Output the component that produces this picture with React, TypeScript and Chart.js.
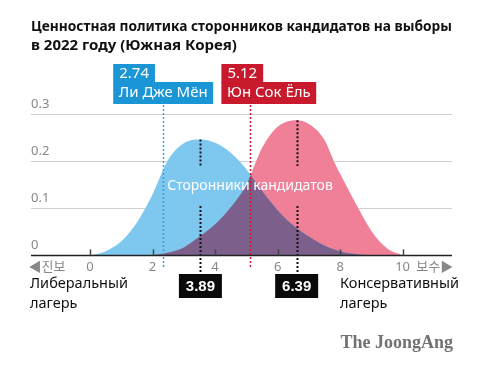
import React, { useEffect, useRef } from 'react';
import { Chart, registerables } from 'chart.js';

Chart.register(...registerables);

// ---------- data ----------
const TITLE_LINES = ['Ценностная политика сторонников кандидатов на выборы', 'в 2022 году (Южная Корея)'];

// Lee Jae-myung supporters (blue)
const leeX = [0, 0.5, 1, 1.5, 2, 2.5, 3, 3.53, 4, 4.5, 5, 5.5, 6, 6.5, 7, 7.5, 8, 8.5, 9];
const leeValues = [0, 0.009, 0.03, 0.07, 0.13, 0.203, 0.238, 0.246, 0.239, 0.218, 0.183, 0.137, 0.096, 0.064, 0.04, 0.021, 0.009, 0.003, 0];

// Yoon Suk-yeol supporters (pink)
const yoonX = [1.9, 2.5, 3, 3.5, 4, 4.5, 5, 5.5, 6, 6.61, 7, 7.5, 7.8, 8.2, 8.6, 9, 9.5, 10];
const yoonValues = [0, 0.006, 0.017, 0.04, 0.066, 0.102, 0.15, 0.228, 0.273, 0.287, 0.279, 0.245, 0.2, 0.148, 0.098, 0.052, 0.015, 0];

const candidateNames = ['Ли Дже Мён', 'Юн Сок Ёль'];
const candidateScores = ['2.74', '5.12'];
const candidatePos = [2.34, 5.13];

const supporterMeans = ['3.89', '6.39'];
const supporterPos = [3.53, 6.61];

const centerLabel = 'Сторонники кандидатов';
const leftCaption = ['Либеральный', 'лагерь'];
const rightCaption = ['Консервативный', 'лагерь'];
const sourceLabel = 'The JoongAng';

const xTickValues = [-1.38, 0, 2, 4, 6, 8, 10, 11.03];
const xTickLabels = ['◀진보', '0', '2', '4', '6', '8', '10', '보수▶'];
const axisMarkValues = [0, 2, 4, 6, 8, 10];
const yTickValues = [0, 0.1, 0.2, 0.3];

// ---------- styles ----------
const FONT = "'Noto Sans', 'Noto Sans CJK KR', sans-serif";
const BLUE_FILL = '#7ec8ef';
const PINK_FILL = '#ef8098';
const OVERLAP = '#7c5f8a';
const BOX_COLORS = ['#1a95d5', '#c8192d'];
const LINE_COLORS = ['#3aa2da', '#c8192d'];
const BOX_OFFSETS = [-50, -29];

const annotate = {
  id: 'annotate',
  afterDatasetsDraw(chart: any) {
    const { ctx, scales } = chart;
    const x = scales.x;
    const y = scales.y;
    const base = y.getPixelForValue(0);

    // overlap of the two areas
    const area = (meta: any) => {
      const pts = meta.data;
      ctx.beginPath();
      meta.dataset.path(ctx);
      ctx.lineTo(pts[pts.length - 1].x, base);
      ctx.lineTo(pts[0].x, base);
      ctx.closePath();
    };
    ctx.save();
    area(chart.getDatasetMeta(0));
    ctx.clip();
    area(chart.getDatasetMeta(1));
    ctx.fillStyle = OVERLAP;
    ctx.fill();
    ctx.restore();

    ctx.save();
    // candidate dotted lines
    candidatePos.forEach((v, i) => {
      const px = Math.round(x.getPixelForValue(v)) + 0.5;
      ctx.strokeStyle = LINE_COLORS[i];
      ctx.lineWidth = 1.5;
      ctx.setLineDash([2, 2]);
      ctx.beginPath();
      ctx.moveTo(px, 105);
      ctx.lineTo(px, 269);
      ctx.stroke();
    });
    // supporter mean dotted lines
    const peaks = [Math.max(...leeValues), Math.max(...yoonValues)];
    supporterPos.forEach((v, i) => {
      const px = Math.round(x.getPixelForValue(v)) + 0.5;
      ctx.strokeStyle = '#111';
      ctx.lineWidth = 2;
      ctx.setLineDash([2, 2]);
      ctx.beginPath();
      ctx.moveTo(px, y.getPixelForValue(peaks[i]));
      ctx.lineTo(px, y.getPixelForValue(0.19));
      ctx.moveTo(px, y.getPixelForValue(0.105));
      ctx.lineTo(px, 274);
      ctx.stroke();
    });
    ctx.setLineDash([]);

    // baseline and tick marks
    ctx.strokeStyle = '#222';
    ctx.lineWidth = 1.5;
    ctx.beginPath();
    ctx.moveTo(chart.chartArea.left, base);
    ctx.lineTo(chart.chartArea.right, base);
    ctx.stroke();
    ctx.strokeStyle = '#444';
    ctx.lineWidth = 1.5;
    axisMarkValues.forEach((v) => {
      const px = Math.round(x.getPixelForValue(v)) + 0.5;
      ctx.beginPath();
      ctx.moveTo(px, base);
      ctx.lineTo(px, base - 6);
      ctx.stroke();
    });

    // center label
    ctx.fillStyle = '#ffffff';
    ctx.font = `14px ${FONT}`;
    ctx.textAlign = 'center';
    ctx.textBaseline = 'middle';
    ctx.fillText(centerLabel, 250, 186);

    // candidate boxes
    ctx.textAlign = 'left';
    candidatePos.forEach((v, i) => {
      const left = x.getPixelForValue(v) + BOX_OFFSETS[i];
      ctx.font = `15px ${FONT}`;
      const wScore = ctx.measureText(candidateScores[i]).width + 12;
      const wName = ctx.measureText(candidateNames[i]).width + 11;
      ctx.fillStyle = BOX_COLORS[i];
      ctx.fillRect(left, 64, wScore, 19);
      ctx.fillRect(left, 82, wName, 22);
      ctx.fillStyle = '#fff';
      ctx.fillText(candidateScores[i], left + 6, 73.5);
      ctx.fillText(candidateNames[i], left + 5.5, 93);
    });

    // supporter mean boxes
    ctx.textAlign = 'center';
    supporterPos.forEach((v, i) => {
      const cx = x.getPixelForValue(v);
      ctx.fillStyle = '#0a0a0a';
      ctx.fillRect(cx - 21.5, 274, 43, 24);
      ctx.fillStyle = '#fff';
      ctx.font = `bold 15px 'Liberation Sans', Arial, sans-serif`;
      ctx.fillText(supporterMeans[i], cx, 286.5);
    });

    // captions
    ctx.textAlign = 'left';
    ctx.fillStyle = '#111';
    ctx.font = `14.5px ${FONT}`;
    leftCaption.forEach((t, i) => ctx.fillText(t, 30, 284 + i * 19.5));
    rightCaption.forEach((t, i) => ctx.fillText(t, 340, 284 + i * 19.5));

    // source
    ctx.textAlign = 'right';
    ctx.fillStyle = '#727272';
    ctx.font = `bold 18px 'Liberation Serif', 'DejaVu Serif', serif`;
    ctx.fillText(sourceLabel, 453, 343);
    ctx.restore();
  },
};

export default function App() {
  const ref = useRef<HTMLCanvasElement | null>(null);

  useEffect(() => {
    if (!ref.current) return;
    const chart = new Chart(ref.current, {
      type: 'line',
      data: {
        datasets: [
          {
            label: 'Ли Дже Мён',
            data: leeX.map((v, i) => ({ x: v, y: leeValues[i] })),
            backgroundColor: BLUE_FILL,
            borderWidth: 0,
            pointRadius: 0,
            fill: 'origin',
            tension: 0.4,
            cubicInterpolationMode: 'monotone',
          },
          {
            label: 'Юн Сок Ёль',
            data: yoonX.map((v, i) => ({ x: v, y: yoonValues[i] })),
            backgroundColor: PINK_FILL,
            borderWidth: 0,
            pointRadius: 0,
            fill: 'origin',
            tension: 0.4,
            cubicInterpolationMode: 'monotone',
          },
        ],
      },
      options: {
        responsive: false,
        animation: false,
        layout: { padding: { left: 31, right: 28, top: 17.5, bottom: 87 } },
        plugins: {
          legend: { display: false },
          tooltip: { enabled: false },
          title: {
            display: true,
            text: TITLE_LINES,
            align: 'start',
            color: '#111',
            font: { family: FONT, size: 15, weight: 'bold', lineHeight: 1.27 },
            padding: { top: 0, bottom: 58.5 },
          },
        },
        scales: {
          x: {
            type: 'linear',
            min: -1.89,
            max: 11.58,
            grid: { display: false, drawTicks: false },
            border: { display: false },
            afterBuildTicks: (s: any) => {
              s.ticks = xTickValues.map((v) => ({ value: v }));
            },
            ticks: {
              autoSkip: false,
              maxRotation: 0,
              padding: 4,
              color: '#888',
              font: { family: FONT, size: 13 },
              callback: (_v: any, i: number) => xTickLabels[i],
            },
          },
          y: {
            min: 0,
            max: 0.3,
            grid: { color: '#cfcfcf', drawTicks: false, lineWidth: 1 },
            border: { display: false },
            afterBuildTicks: (s: any) => {
              s.ticks = yTickValues.map((v) => ({ value: v }));
            },
            ticks: {
              mirror: true,
              padding: 0,
              labelOffset: -10,
              color: '#888',
              font: { family: FONT, size: 13 },
              callback: (v: any) => (v === 0 ? '0' : Number(v).toFixed(1)),
            },
          },
        },
      },
      plugins: [annotate],
    } as any);
    return () => chart.destroy();
  }, []);

  return (
    <div style={{ position: 'absolute', left: 0, top: 0, width: 480, height: 366, background: '#fff' }}>
      <canvas ref={ref} width={480} height={366} style={{ display: 'block' }} />
    </div>
  );
}
